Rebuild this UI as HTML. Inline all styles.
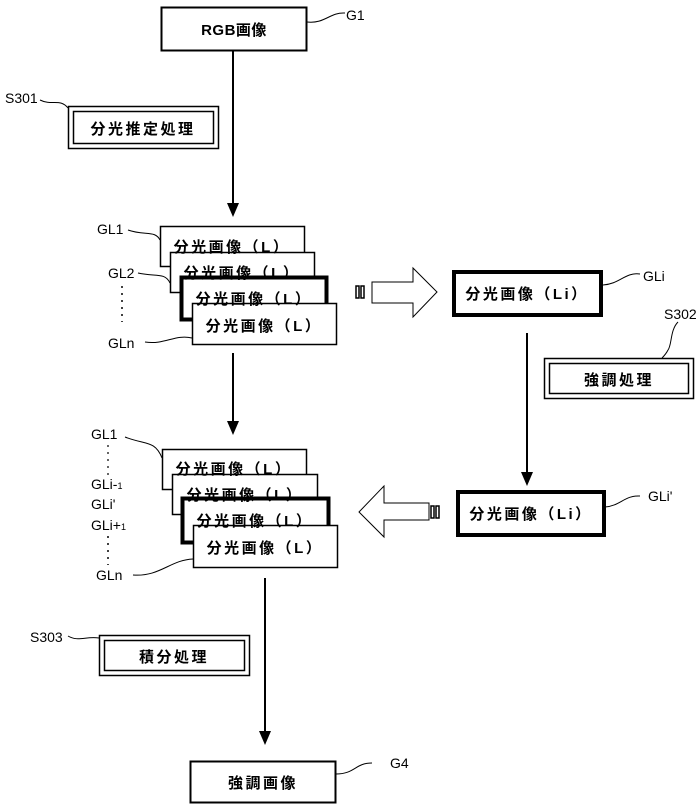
<!DOCTYPE html>
<html><head><meta charset="utf-8"><style>
html,body{margin:0;padding:0;background:#fff;}
svg{display:block;}
text{font-family:"Liberation Sans","Noto Sans CJK JP",sans-serif;fill:#000;}
.b{font-size:15px;letter-spacing:2.5px;font-weight:bold;}
</style></head><body>
<svg width="697" height="806" viewBox="0 0 697 806" xmlns="http://www.w3.org/2000/svg">
<g fill="none" stroke="#000">
<rect x="161.5" y="7.5" width="145" height="43" stroke-width="2"/>
<path d="M307 22 C325 24 330 12 345 13" stroke-width="1"/>
<line x1="233" y1="50" x2="233" y2="205" stroke-width="2"/>
<rect x="68.5" y="106.5" width="150" height="42" stroke-width="1.5"/>
<rect x="73.5" y="111.5" width="140" height="32" stroke-width="1.5"/>
<path d="M40 100 C52 106 60 98 68 108" stroke-width="1"/>
<rect x="160.5" y="226.5" width="144" height="40" fill="#fff" stroke-width="1.5"/>
<rect x="170.5" y="252.5" width="144" height="40" fill="#fff" stroke-width="1.5"/>
<rect x="181.5" y="277.5" width="145" height="42" fill="#fff" stroke-width="4"/>
<rect x="192.5" y="303.5" width="144" height="41" fill="#fff" stroke-width="1.5"/>
<path d="M128 230 C145 236 155 230 160 240" stroke-width="1"/>
<path d="M138 273 C155 277 165 272 170 283" stroke-width="1"/>
<path d="M145 342 C165 345 175 334 192 338" stroke-width="1"/>
<line x1="122" y1="286" x2="122" y2="322" stroke-width="1.5" stroke-dasharray="2,5"/>
<line x1="233" y1="353" x2="233" y2="423" stroke-width="2"/>
<path d="M372 282 H413 V268 L437 292 L413 317 V303 H372 Z" stroke-width="1"/>
<rect x="356" y="286" width="3" height="12" stroke-width="1.5"/>
<rect x="361" y="286" width="3" height="12" stroke-width="1.5"/>
<rect x="454" y="272" width="147" height="43" stroke-width="4"/>
<path d="M603 285 C620 284 625 272 640 274" stroke-width="1"/>
<line x1="527" y1="333" x2="527" y2="474" stroke-width="2"/>
<rect x="544.5" y="358.5" width="149" height="40" stroke-width="1.5"/>
<rect x="549.5" y="363.5" width="139" height="30" stroke-width="1.5"/>
<path d="M678 322 C670 330 672 345 668 350 C666 354 664 356 662 358" stroke-width="1"/>
<rect x="458" y="492" width="146" height="43" stroke-width="4"/>
<path d="M605 507 C620 506 625 495 640 496" stroke-width="1"/>
<path d="M429 503 H384 V486 L359 512 L384 537 V520 H429 Z" stroke-width="1"/>
<rect x="431" y="506" width="3" height="12" stroke-width="1.5"/>
<rect x="436" y="506" width="3" height="12" stroke-width="1.5"/>
<rect x="162.5" y="449.5" width="144" height="40" fill="#fff" stroke-width="1.5"/>
<rect x="172.5" y="474.5" width="145" height="40" fill="#fff" stroke-width="1.5"/>
<rect x="182.5" y="498.5" width="146" height="44" fill="#fff" stroke-width="4"/>
<rect x="193.5" y="525.5" width="144" height="42" fill="#fff" stroke-width="1.5"/>
<path d="M125 437 C145 445 155 440 162 458" stroke-width="1"/>
<path d="M133 575 C160 577 170 560 193 559" stroke-width="1"/>
<line x1="108" y1="445" x2="108" y2="475" stroke-width="1.2" stroke-dasharray="2,5"/>
<line x1="108" y1="536" x2="108" y2="565" stroke-width="1.5" stroke-dasharray="2,5"/>
<line x1="265" y1="578" x2="265" y2="733" stroke-width="2"/>
<rect x="99.5" y="635.5" width="150" height="40" stroke-width="1.5"/>
<rect x="104.5" y="640.5" width="140" height="30" stroke-width="1.5"/>
<path d="M68 636 C78 642 86 636 99 638" stroke-width="1"/>
<rect x="190.5" y="761.5" width="145" height="41" stroke-width="2"/>
<path d="M336 774 C355 774 355 763 372 763" stroke-width="1"/>
</g>
<g fill="#000">
<path d="M227 203 L239 203 L233 217 Z"/>
<path d="M227 421 L239 421 L233 435 Z"/>
<path d="M521 472 L533 472 L527 486 Z"/>
<path d="M259 731 L271 731 L265 745 Z"/>
</g>
<g class="b" text-anchor="middle">
<text x="234" y="35" letter-spacing="0.5">RGB画像</text>
<text x="143" y="134">分光推定処理</text>
<text x="232" y="252">分光画像（L）</text>
<text x="242" y="278">分光画像（L）</text>
<text x="254" y="304">分光画像（L）</text>
<text x="264" y="331">分光画像（L）</text>
<text x="527" y="299">分光画像（Li）</text>
<text x="619" y="385">強調処理</text>
<text x="531" y="519">分光画像（Li）</text>
<text x="234" y="474">分光画像（L）</text>
<text x="245" y="500">分光画像（L）</text>
<text x="255" y="526">分光画像（L）</text>
<text x="265" y="553">分光画像（L）</text>
<text x="174" y="662">積分処理</text>
<text x="263" y="788">強調画像</text>
</g>
<g font-size="14">
<text x="346" y="20">G1</text>
<text x="5" y="103">S301</text>
<text x="97" y="234">GL1</text>
<text x="108" y="278">GL2</text>
<text x="108" y="348">GLn</text>
<text x="643" y="281">GLi</text>
<text x="664" y="319">S302</text>
<text x="648" y="501">GLi'</text>
<text x="91" y="439">GL1</text>
<text x="91" y="489">GLi-<tspan font-size="9">1</tspan></text>
<text x="91" y="509">GLi'</text>
<text x="91" y="530">GLi+<tspan font-size="9">1</tspan></text>
<text x="96" y="580">GLn</text>
<text x="30" y="642">S303</text>
<text x="390" y="768">G4</text>
</g>
</svg>
</body></html>
